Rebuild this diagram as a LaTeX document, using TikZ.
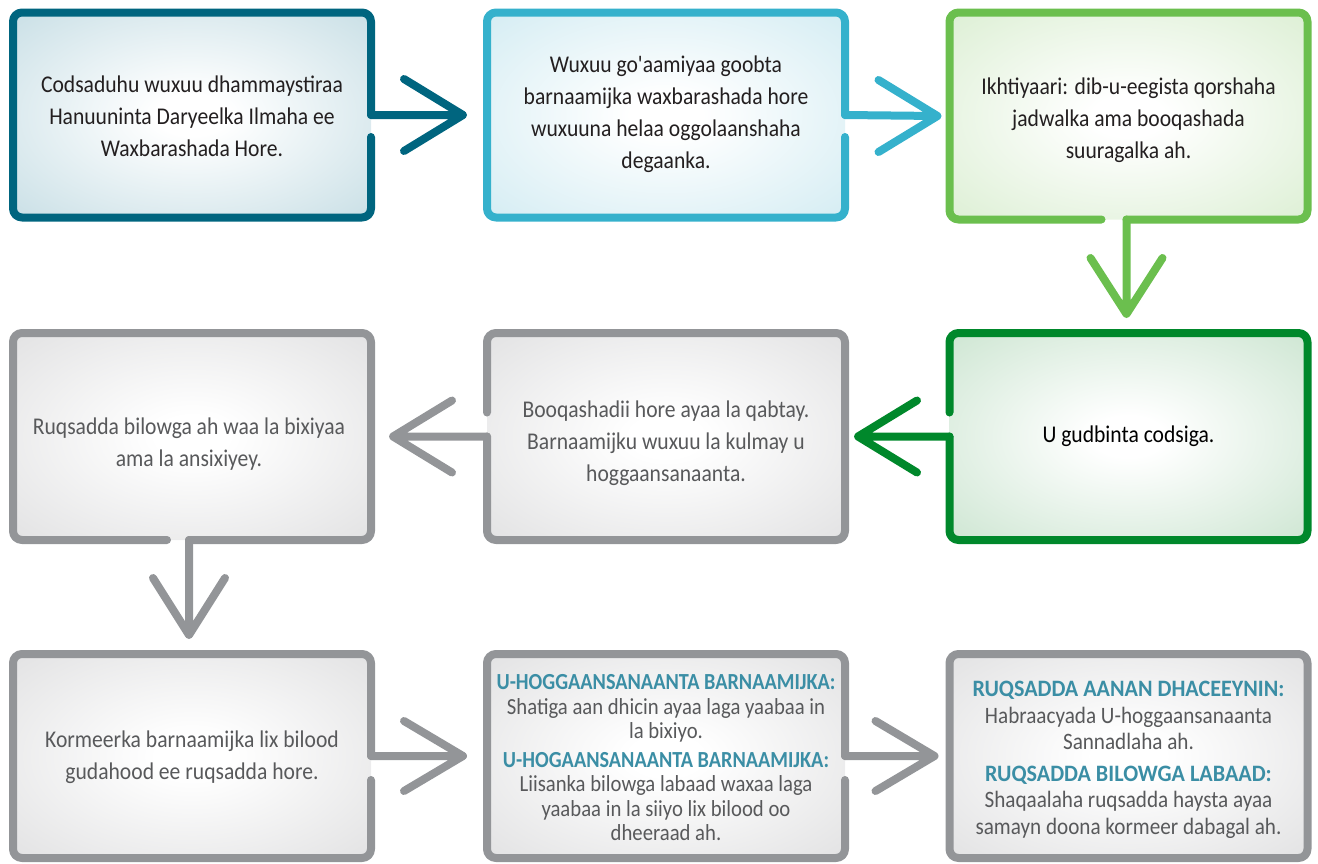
\documentclass[tikz,border=0pt]{standalone}
\usepackage{fontspec}
\setmainfont{Carlito}[FakeStretch=0.9, Ligatures=TeXOff]
\usetikzlibrary{calc}
\definecolor{c1}{HTML}{00657F}
\definecolor{c1f}{HTML}{C5DDE4}
\definecolor{c2}{HTML}{35B1CC}
\definecolor{c2f}{HTML}{D1EBF2}
\definecolor{c3}{HTML}{6BBF4E}
\definecolor{c3f}{HTML}{DAEED1}
\definecolor{c6}{HTML}{00882B}
\definecolor{c6f}{HTML}{CAE4CF}
\definecolor{gr}{HTML}{939598}
\definecolor{grf}{HTML}{E0E0E1}
\definecolor{head}{HTML}{3B8EA5}
\definecolor{dtxt}{HTML}{231F20}
\definecolor{gtxt}{HTML}{58595B}
\colorlet{shadeout}{grf}
\pgfdeclareradialshading[shadeout]{boxshade}{\pgfpoint{0bp}{0bp}}{color(0bp)=(white); color(5bp)=(white); color(38bp)=(shadeout); color(50bp)=(shadeout)}
\tikzset{
  box/.style={rectangle, rounded corners=10pt, minimum width=358pt, inner sep=0pt, outer sep=0pt, shading=boxshade},
  shcol/.code={\colorlet{shadeout}{#1}},
  txt/.style={align=center, inner sep=0pt, font=\fontsize{24}{32}\selectfont},
  smtxt/.style={align=center, inner sep=0pt, font=\fontsize{23}{24.5}\selectfont},
  mdtxt/.style={align=center, inner sep=0pt, font=\fontsize{23.5}{26.5}\selectfont},
  bd/.style={line width=8pt, rounded corners=9pt, line cap=round, line join=round},
  chev/.style={line width=8pt, line cap=round, line join=round},
}
\newcommand{\hd}[2][0.88]{{\bfseries\addfontfeature{FakeStretch=#1}\color{head}#2}}
\begin{document}
\begin{tikzpicture}[x=1pt,y=-1pt]
\useasboundingbox (0,0) rectangle (1318,863);
% boxes
\node[box, shcol=c1f, minimum height=205pt] (b1) at (192,115) {};
\node[box, shcol=c2f, minimum height=205pt] (b2) at (666,115) {};
\node[box, shcol=c3f, minimum height=207pt] (b3) at (1128.5,116) {};
\node[box, shcol=grf, minimum height=207pt] (b4) at (192,436.5) {};
\node[box, shcol=grf, minimum height=207pt] (b5) at (666,436.5) {};
\node[box, shcol=c6f, minimum height=207pt] (b6) at (1128.5,436.5) {};
\node[box, shcol=grf, minimum height=204pt] (b7) at (192,756) {};
\node[box, shcol=grf, minimum height=204pt] (b8) at (666,756) {};
\node[box, shcol=grf, minimum height=204pt] (b9) at (1128.5,756) {};
% texts
\node[txt, text=dtxt] (t1) at ([yshift=-1pt]b1.center) {Codsaduhu wuxuu dhammaystiraa\\Hanuuninta Daryeelka Ilmaha ee\\Waxbarashada Hore.};
\node[txt, text=dtxt] (t2) at ([yshift=1pt]b2.center) {Wuxuu go'aamiyaa goobta\\barnaamijka waxbarashada hore\\wuxuuna helaa oggolaanshaha\\degaanka.};
\node[txt, text=dtxt] (t3) at ([yshift=-4pt]b3.center) {Ikhtiyaari: dib-u-eegista qorshaha\\jadwalka ama booqashada\\suuragalka ah.};
\node[txt, text=gtxt] (t4) at ([xshift=-3pt,yshift=-8pt]b4.center) {Ruqsadda bilowga ah waa la bixiyaa\\ama la ansixiyey.};
\node[txt, text=gtxt] (t5) at ([yshift=-7pt]b5.center) {Booqashadii hore ayaa la qabtay.\\Barnaamijku wuxuu la kulmay u\\hoggaansanaanta.};
\node[txt, text=black] (t6) at (b6.center) {U gudbinta codsiga.};
\node[txt, text=gtxt] (t7) at ([yshift=-1pt]b7.center) {Kormeerka barnaamijka lix bilood\\gudahood ee ruqsadda hore.};
\node[smtxt, text=gtxt] (t8) at ([yshift=-2pt]b8.center) {\hd{U-HOGGAANSANAANTA BARNAAMIJKA:}\\Shatiga aan dhicin ayaa laga yaabaa in\\la bixiyo.\\[4pt]\hd{U-HOGAANSANAANTA BARNAAMIJKA:}\\Liisanka bilowga labaad waxaa laga\\yaabaa in la siiyo lix bilood oo\\dheeraad ah.};
\node[mdtxt, text=gtxt] (t9) at ([yshift=-4pt]b9.center) {\hd[0.94]{RUQSADDA AANAN DHACEEYNIN:}\\Habraacyada U-hoggaansanaanta\\Sannadlaha ah.\\[5pt]\hd[0.94]{RUQSADDA BILOWGA LABAAD:}\\Shaqaalaha ruqsadda haysta ayaa\\samayn doona kormeer dabagal ah.};
% borders
\draw[bd, draw=c1] ([yshift=-22pt]b1.east) -- (b1.south east) -- (b1.south west) -- (b1.north west) -- (b1.north east) -- (b1.east);
\draw[bd, draw=c2] ([yshift=-22pt]b2.east) -- (b2.south east) -- (b2.south west) -- (b2.north west) -- (b2.north east) -- (b2.east);
\draw[bd, draw=c3] ([xshift=-27pt]b3.south) -- (b3.south west) -- (b3.north west) -- (b3.north east) -- (b3.south east) -- ([xshift=-2pt]b3.south);
\draw[bd, draw=c6] ([yshift=24pt]b6.west) -- (b6.north west) -- (b6.north east) -- (b6.south east) -- (b6.south west) -- (b6.west);
\draw[bd, draw=gr] ([yshift=24pt]b5.west) -- (b5.north west) -- (b5.north east) -- (b5.south east) -- (b5.south west) -- (b5.west);
\draw[bd, draw=gr] ([xshift=-25pt]b4.south) -- (b4.south west) -- (b4.north west) -- (b4.north east) -- (b4.south east) -- ([xshift=-3pt]b4.south);
\draw[bd, draw=gr] ([yshift=-24pt]b7.east) -- (b7.south east) -- (b7.south west) -- (b7.north west) -- (b7.north east) -- (b7.east);
\draw[bd, draw=gr] ([yshift=-24pt]b8.east) -- (b8.south east) -- (b8.south west) -- (b8.north west) -- (b8.north east) -- (b8.east);
\draw[bd, draw=gr] (b9.north west) rectangle (b9.south east);
% connectors
\coordinate (a1) at ([xshift=-24pt]b2.west);
\draw[chev, draw=c1] (b1.east) -- (a1) ([shift={(-59pt,36pt)}]a1) -- (a1) -- ([shift={(-59pt,-36pt)}]a1);
\coordinate (a2) at ([xshift=-12pt]b3.west);
\draw[chev, draw=c2] (b2.east) -- (a2) ([shift={(-59pt,36pt)}]a2) -- (a2) -- ([shift={(-59pt,-36pt)}]a2);
\coordinate (a3) at ([xshift=-2pt,yshift=19pt]b6.north);
\draw[chev, draw=c3] ([xshift=-2pt]b3.south) -- (a3) ([shift={(-36pt,56pt)}]a3) -- (a3) -- ([shift={(36pt,56pt)}]a3);
\coordinate (a4) at ([xshift=13pt]b5.east);
\draw[chev, draw=c6] (b6.west) -- (a4) ([shift={(59pt,36pt)}]a4) -- (a4) -- ([shift={(59pt,-36pt)}]a4);
\coordinate (a5) at ([xshift=22pt]b4.east);
\draw[chev, draw=gr] (b5.west) -- (a5) ([shift={(59pt,36pt)}]a5) -- (a5) -- ([shift={(59pt,-36pt)}]a5);
\coordinate (a6) at ([xshift=-3pt,yshift=19pt]b7.north);
\draw[chev, draw=gr] ([xshift=-3pt]b4.south) -- (a6) ([shift={(-36pt,57pt)}]a6) -- (a6) -- ([shift={(36pt,57pt)}]a6);
\coordinate (a7) at ([xshift=-24pt]b8.west);
\draw[chev, draw=gr] (b7.east) -- (a7) ([shift={(-59pt,35pt)}]a7) -- (a7) -- ([shift={(-59pt,-35pt)}]a7);
\coordinate (a8) at ([xshift=-15pt]b9.west);
\draw[chev, draw=gr] (b8.east) -- (a8) ([shift={(-59pt,35pt)}]a8) -- (a8) -- ([shift={(-59pt,-35pt)}]a8);
\end{tikzpicture}
\end{document}
